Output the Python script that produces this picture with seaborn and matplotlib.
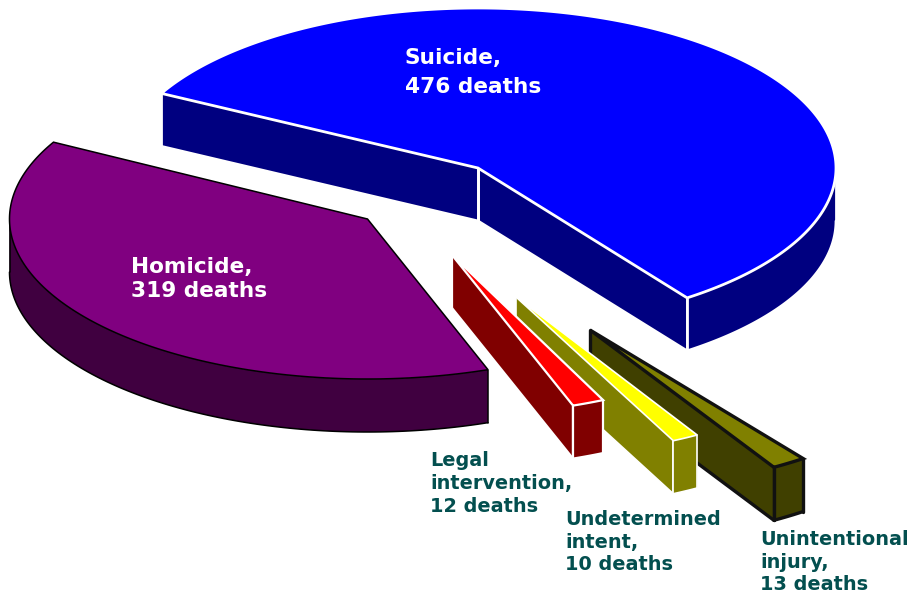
import numpy as np
import matplotlib
matplotlib.use('Agg')
import matplotlib.pyplot as plt
import seaborn as sns

# deaths by intent, in the order the slices go round
names = ['Homicide', 'Legal\nintervention', 'Undetermined\nintent', 'Unintentional\ninjury', 'Suicide']
deaths = [319, 12, 10, 13, 476]

top_colors = ['#800080', '#ff0000', '#ffff00', '#808000', '#0000ff']
side_colors = ['#400040', '#800000', '#808000', '#404000', '#000080']
edge_colors = ['#000000', '#ffffff', '#ffffff', '#111111', '#ffffff']
edge_widths = [1.1, 1.6, 1.2, 2.4, 2.0]
text_colors = ['#ffffff', '#034f4f', '#034f4f', '#034f4f', '#ffffff']

# exploded slice apexes and label corners, in pixels
apex_x = [367.5, 452, 516, 590, 478]
apex_y = [219, 255, 297, 330, 168]
label_x = [131, 430, 565, 760, 405]
label_y = [257, 451, 510, 530, 48]
label_size = [15.6, 13.9, 13.9, 13.9, 15.6]
label_gap = [1.27, 1.25, 1.25, 1.25, 1.54]
# small turn per slice, the drawn pie is not quite true to its numbers
nudge = [0, 0.1, 1.2, 1.7, 0.9]
# back to front
draw_order = [4, 0, 3, 2, 1]

rx, ry = 358, 160
depth = 53
start_angle = 151.3

sns.set_theme(style='white')
plt.rcParams['font.family'] = ['DejaVu Sans']
plt.rcParams['lines.solid_capstyle'] = 'round'

fig, ax = plt.subplots(figsize=(9.09, 5.97), dpi=100)
fig.subplots_adjust(0, 0, 1, 1)


def pt(cx, cy, deg):
    return cx + rx * np.cos(np.radians(deg)), cy - ry * np.sin(np.radians(deg))


def front_arc(lo, hi):
    # parts of the rim that face the viewer (sin < 0)
    parts = []
    for a, b in [(180, 360), (540, 720)]:
        l, h = max(lo, a), min(hi, b)
        if h > l:
            parts.append((l, h))
    return parts


def cut_face(cx, cy, deg, color, edge, lw, z):
    x, y = pt(cx, cy, deg)
    ax.fill([cx, x, x, cx], [cy, y, y + depth, cy + depth], fc=color, ec='none', zorder=z)
    ax.plot([cx, cx], [cy, cy + depth], color=edge, lw=lw, zorder=z + 0.5)
    ax.plot([x, x], [y, y + depth], color=edge, lw=lw, zorder=z + 0.5)
    ax.plot([cx, x], [cy + depth, y + depth], color=edge, lw=lw, zorder=z + 0.5)


sweeps = 360 * np.array(deaths) / sum(deaths)
starts = start_angle + np.concatenate([[0], np.cumsum(sweeps)[:-1]])

for i in draw_order:
    a0 = starts[i] + nudge[i]
    a1 = a0 + sweeps[i]
    z = 2 + 2 * draw_order.index(i)
    cx, cy = apex_x[i], apex_y[i]
    ec, lw = edge_colors[i], edge_widths[i]

    # flat cut faces, only if they turn towards the viewer
    if np.sin(np.radians(a0 - 90)) < 0:
        cut_face(cx, cy, a0, side_colors[i], ec, lw, z)
    if np.sin(np.radians(a1 + 90)) < 0:
        cut_face(cx, cy, a1, side_colors[i], ec, lw, z)

    # outer rim
    for lo, hi in front_arc(a0, a1):
        t = np.linspace(lo, hi, 120)
        x, y = pt(cx, cy, t)
        ax.fill(np.r_[x, x[::-1]], np.r_[y, y[::-1] + depth], fc=side_colors[i], ec='none', zorder=z + 0.6)
        ax.plot(x, y + depth, color=ec, lw=lw, zorder=z + 0.7)
        ax.plot([x[0], x[0]], [y[0], y[0] + depth], color=ec, lw=lw, zorder=z + 0.7)
        ax.plot([x[-1], x[-1]], [y[-1], y[-1] + depth], color=ec, lw=lw, zorder=z + 0.7)

    # top of the slice
    t = np.linspace(a0, a1, 300)
    x, y = pt(cx, cy, t)
    ax.fill(np.r_[cx, x], np.r_[cy, y], fc=top_colors[i], ec=ec, lw=lw, joinstyle='miter', zorder=z + 1)

    ax.text(label_x[i], label_y[i], f'{names[i]},\n{deaths[i]} deaths', color=text_colors[i],
            fontsize=label_size[i], fontweight='bold', va='top', ha='left',
            linespacing=label_gap[i], zorder=20)

ax.set_xlim(0, 909)
ax.set_ylim(597, 0)
ax.set_xticks([])
ax.set_yticks([])
sns.despine(ax=ax, left=True, bottom=True)

fig.savefig('out.png', dpi=100)
